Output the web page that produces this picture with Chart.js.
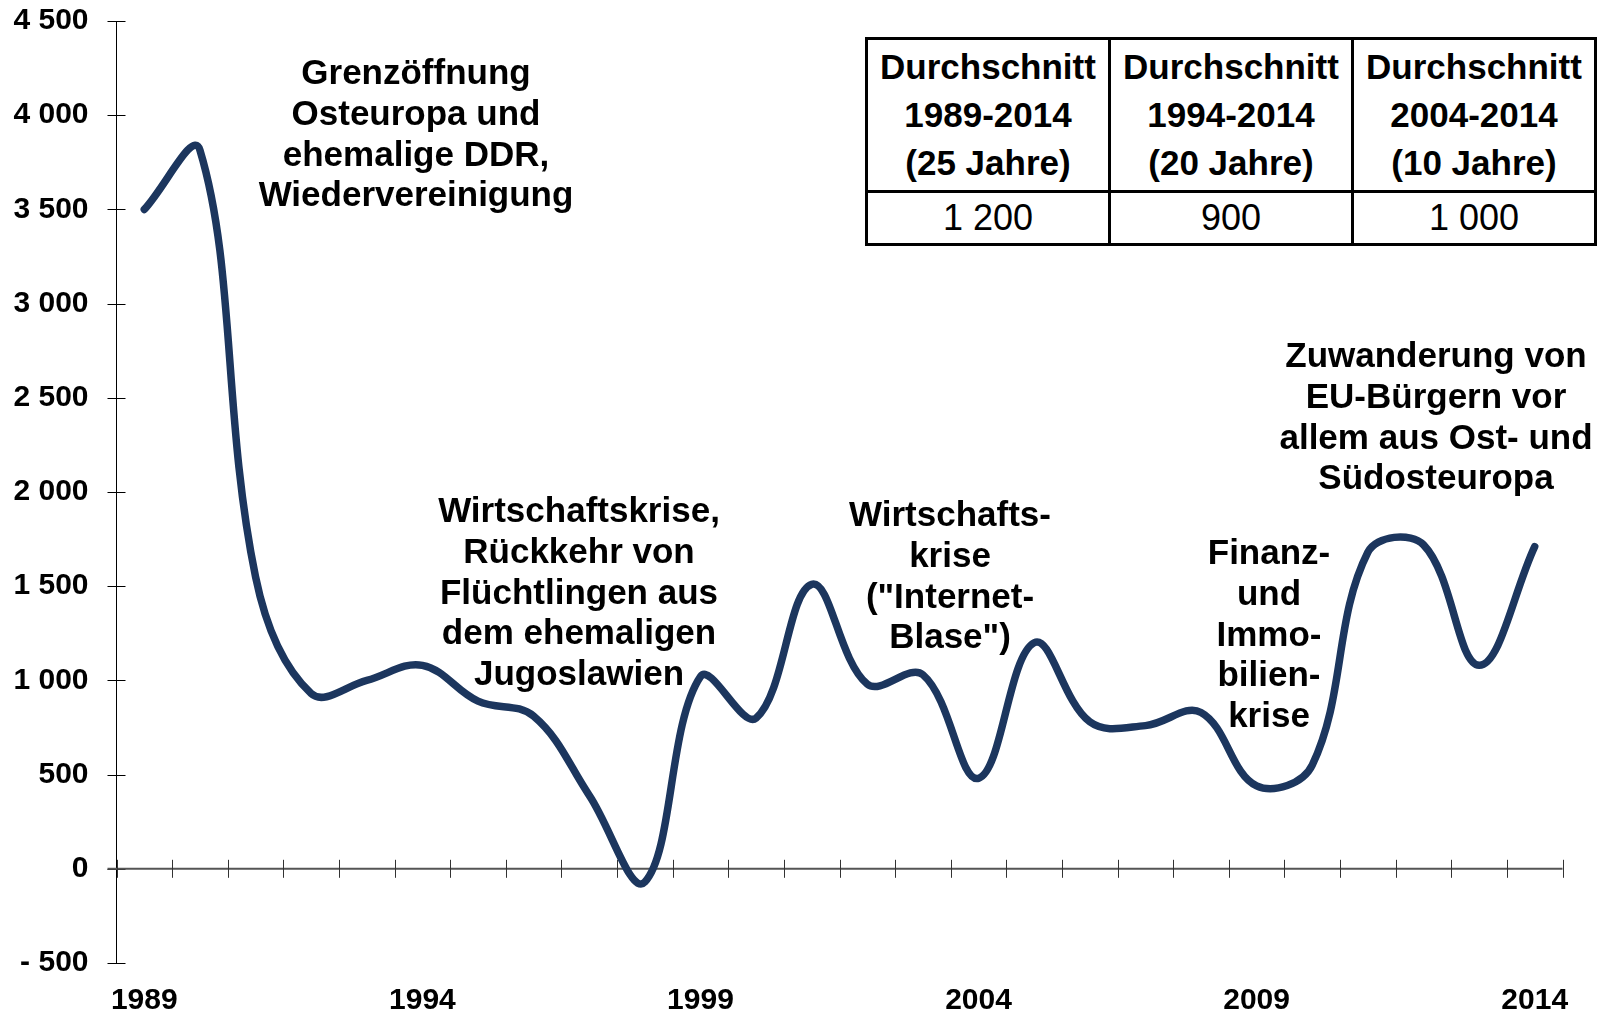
<!DOCTYPE html>
<html>
<head>
<meta charset="utf-8">
<script src="https://cdn.jsdelivr.net/npm/chart.js@4.4.1/dist/chart.umd.min.js"></script>
<style>
  html, body { margin: 0; padding: 0; background: #fff; }
  #wrap { position: relative; width: 1599px; height: 1013px; overflow: hidden; }
  #c { position: absolute; left: 0; top: 0; }
  .note { position: absolute; width: 440px; text-align: center; font-family: 'Liberation Sans', Arial, sans-serif;
          font-weight: bold; font-size: 35px; line-height: 40.8px; color: #000; white-space: nowrap; }
  #avg { position: absolute; left: 865px; top: 37px; width: 732px; border-collapse: collapse;
         font-family: 'Liberation Sans', Arial, sans-serif; color: #000; background: #fff; }
  #avg th, #avg td { border: 3px solid #000; text-align: center; padding: 0; width: 244px; }
  #avg th { font-weight: bold; font-size: 35px; line-height: 48px; height: 150px; }
  #avg td { font-weight: normal; font-size: 36px; line-height: 48px; height: 50px; }
</style>
</head>
<body>
<div id="wrap">
  <canvas id="c" width="1599" height="1013"></canvas>
</div>
<script>
// ---- data ----
const years = ['1989','1990','1991','1992','1993','1994','1995','1996','1997','1998','1999','2000','2001',
               '2002','2003','2004','2005','2006','2007','2008','2009','2010','2011','2012','2013','2014'];
const saldo = [3500, 3815, 1550, 930, 1000, 1080, 890, 810, 390, -70, 1020, 800, 1510,
               980, 1030, 480, 1200, 780, 760, 830, 440, 550, 1680, 1720, 1080, 1710];
const labelYears = ['1989','1994','1999','2004','2009','2014'];
const yMin = -500, yMax = 4500, yStep = 500;

const avgHeaders = ['Durchschnitt\n1989-2014\n(25 Jahre)', 'Durchschnitt\n1994-2014\n(20 Jahre)', 'Durchschnitt\n2004-2014\n(10 Jahre)'];
const avgValues = ['1 200', '900', '1 000'];

const notes = [
  ['Grenzöffnung', 'Osteuropa und', 'ehemalige DDR,', 'Wiedervereinigung'],
  ['Wirtschaftskrise,', 'Rückkehr von', 'Flüchtlingen aus', 'dem ehemaligen', 'Jugoslawien'],
  ['Wirtschafts-', 'krise', '("Internet-', 'Blase")'],
  ['Finanz-', 'und', 'Immo-', 'bilien-', 'krise'],
  ['Zuwanderung von', 'EU-Bürgern vor', 'allem aus Ost- und', 'Südosteuropa']
];
// ---- layout (pixels) ----
const notePos = [[416, 52], [579, 490], [950, 494], [1269, 532], [1436, 335]];

const wrap = document.getElementById('wrap');
notes.forEach((lines, i) => {
  const d = document.createElement('div');
  d.className = 'note';
  d.style.left = (notePos[i][0] - 220) + 'px';
  d.style.top = notePos[i][1] + 'px';
  d.innerHTML = lines.map(l => l.replace(/&/g,'&amp;').replace(/</g,'&lt;')).join('<br>');
  wrap.appendChild(d);
});

const tbl = document.createElement('table');
tbl.id = 'avg';
const tr1 = document.createElement('tr');
avgHeaders.forEach(h => { const th = document.createElement('th'); th.innerHTML = h.split('\n').join('<br>'); tr1.appendChild(th); });
const tr2 = document.createElement('tr');
avgValues.forEach(v => { const td = document.createElement('td'); td.textContent = v; tr2.appendChild(td); });
tbl.appendChild(tr1); tbl.appendChild(tr2);
wrap.appendChild(tbl);

function fmt(v) {
  const a = Math.abs(v);
  let s = a >= 1000 ? Math.floor(a / 1000) + ' ' + String(a % 1000).padStart(3, '0') : String(a);
  return v < 0 ? '- ' + s : s;
}

const axisPlugin = {
  id: 'axisPlugin',
  beforeDatasetsDraw(chart) {
    const ctx = chart.ctx;
    const xs = chart.scales.x, ys = chart.scales.y;
    const area = chart.chartArea;
    const y0 = ys.getPixelForValue(0);
    ctx.save();
    ctx.strokeStyle = '#000';
    ctx.lineWidth = 1;
    ctx.beginPath();
    ctx.moveTo(area.left, ys.getPixelForValue(yMax));
    ctx.lineTo(area.left, ys.getPixelForValue(yMin));
    ctx.stroke();
    for (let v = yMin; v <= yMax; v += yStep) {
      const p = Math.round(ys.getPixelForValue(v)) + 0.5;
      ctx.beginPath();
      ctx.moveTo(area.left - 9, p);
      ctx.lineTo(area.left + 9, p);
      ctx.stroke();
    }
    ctx.strokeStyle = '#555';
    ctx.lineWidth = 2;
    ctx.beginPath();
    ctx.moveTo(area.left - 9, y0);
    ctx.lineTo(area.right, y0);
    ctx.stroke();
    ctx.lineWidth = 1;
    ctx.strokeStyle = '#333';
    const w = xs.getPixelForValue(1) - xs.getPixelForValue(0);
    for (let i = 0; i <= years.length; i++) {
      const p = Math.round(xs.getPixelForValue(0) - w / 2 + i * w) + 0.5;
      ctx.beginPath();
      ctx.moveTo(p, y0 - 9);
      ctx.lineTo(p, y0 + 9);
      ctx.stroke();
    }
    ctx.restore();
  }
};

Chart.defaults.font.family = "'Liberation Sans', Arial, sans-serif";
new Chart(document.getElementById('c'), {
  type: 'line',
  data: {
    labels: years,
    datasets: [{
      data: saldo,
      borderColor: '#1C365E',
      borderWidth: 7.5,
      pointRadius: 0,
      pointHoverRadius: 0,
      tension: 0.38,
      fill: false,
      borderCapStyle: 'round',
      borderJoinStyle: 'round'
    }]
  },
  options: {
    responsive: false,
    animation: false,
    events: [],
    layout: { padding: { top: 21, right: 36.5, left: 0, bottom: 0 } },
    plugins: { legend: { display: false }, tooltip: { enabled: false } },
    scales: {
      x: {
        type: 'category',
        offset: true,
        grid: { display: false, drawTicks: false },
        border: { display: false },
        ticks: {
          autoSkip: false, maxRotation: 0, minRotation: 0, padding: 20,
          color: '#000', font: { size: 30, weight: 'bold' },
          callback: function(val, idx) { const l = years[idx]; return labelYears.includes(l) ? l : ''; }
        },
        afterFit(s) { s.height = 50; s.paddingLeft = 0; s.paddingRight = 0; }
      },
      y: {
        min: yMin, max: yMax,
        grid: { display: false, drawTicks: false },
        border: { display: false },
        ticks: {
          stepSize: yStep, padding: 28, color: '#000', font: { size: 30, weight: 'bold' },
          callback: v => fmt(v)
        },
        afterFit(s) { s.width = 116.5; s.paddingTop = 0; s.paddingBottom = 0; }
      }
    }
  },
  plugins: [axisPlugin]
});
</script>
</body>
</html>
